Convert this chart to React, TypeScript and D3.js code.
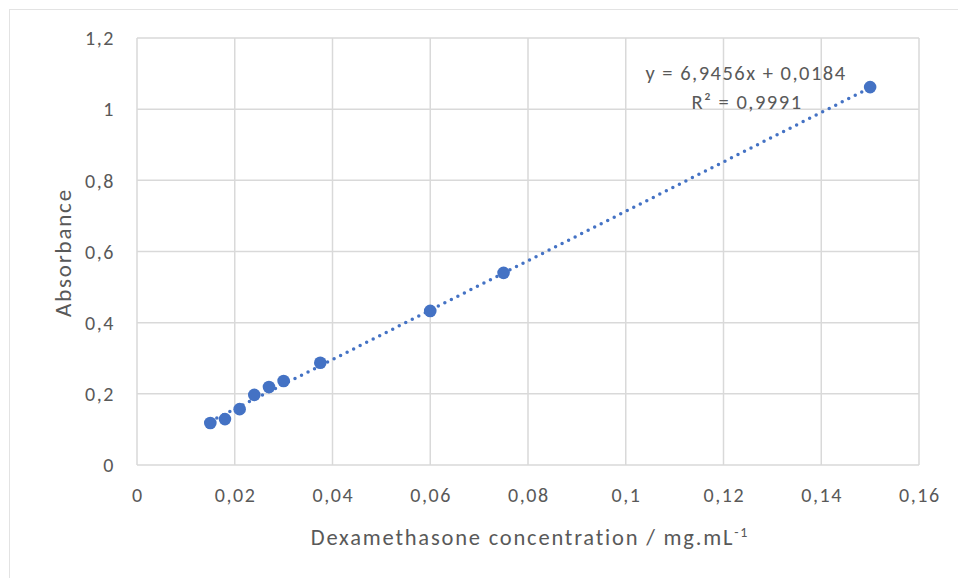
import React from 'react';
import * as d3 from 'd3';

const width = 958;
const height = 578;
const margin = { top: 38, right: 39, bottom: 113, left: 137 };

const concentration = [0.015, 0.018, 0.021, 0.024, 0.027, 0.03, 0.0375, 0.06, 0.075, 0.15];
const absorbance = [0.118, 0.129, 0.157, 0.197, 0.219, 0.236, 0.2875, 0.433, 0.54, 1.062];
const xTicks = [0, 0.02, 0.04, 0.06, 0.08, 0.1, 0.12, 0.14, 0.16];
const yTicks = [0, 0.2, 0.4, 0.6, 0.8, 1, 1.2];
const slope = 6.9456;
const intercept = 0.0184;
const equationLabel = 'y = 6,9456x + 0,0184';
const r2Label = 'R² = 0,9991';

const font = 'Carlito, Calibri, Lato, sans-serif';
const textColor = '#595959';
const gridColor = '#d9d9d9';
const blue = '#4472C4';

const fmt = (v: number) => String(v).replace('.', ',');

export default function App() {
  const x = d3.scaleLinear().domain([0, 0.16]).range([margin.left, width - margin.right]);
  const y = d3.scaleLinear().domain([0, 1.2]).range([height - margin.bottom, margin.top]);

  const xMin = d3.min(concentration) as number;
  const xMax = d3.max(concentration) as number;
  const trend = d3.line<number>()
    .x(d => x(d))
    .y(d => y(slope * d + intercept))([xMin, xMax]);

  const points = concentration.map((c, i) => ({ c, a: absorbance[i] }));

  return (
    <svg width={width} height={height} style={{ position: 'absolute', left: 0, top: 0 }}>
      <rect width={width} height={height} fill="#fff" />
      {/* chart border, cropped on right and bottom */}
      <line x1={9.5} x2={9.5} y1={9} y2={height} stroke="#e3e3e3" strokeWidth={1} />
      <line x1={9} x2={width} y1={9.5} y2={9.5} stroke="#e3e3e3" strokeWidth={1} />

      {xTicks.map(t => (
        <line key={'gx' + t} x1={x(t)} x2={x(t)} y1={y(0)} y2={y(1.2)} stroke={gridColor} strokeWidth={1.5} />
      ))}
      {yTicks.map(t => (
        <line key={'gy' + t} x1={x(0)} x2={x(0.16)} y1={y(t)} y2={y(t)} stroke={gridColor} strokeWidth={1.5} />
      ))}

      {xTicks.map(t => (
        <text key={'tx' + t} x={x(t) + 0.8} y={502} textAnchor="middle" fontFamily={font} fontSize={20} letterSpacing={1.6} fill={textColor}>
          {fmt(t)}
        </text>
      ))}
      {yTicks.map(t => (
        <text key={'ty' + t} x={x(0) - 22} y={y(t)} dy="0.36em" textAnchor="end" fontFamily={font} fontSize={20} letterSpacing={1.6} fill={textColor}>
          {fmt(t)}
        </text>
      ))}

      <path d={trend || ''} fill="none" stroke={blue} strokeWidth={3.5} strokeLinecap="round" strokeDasharray="0 7.3" />

      {points.map((p, i) => (
        <circle key={i} cx={x(p.c)} cy={y(p.a)} r={6.3} fill={blue} />
      ))}

      <text x={746} y={80} textAnchor="middle" fontFamily={font} fontSize={20.5} letterSpacing={1.5} fill={textColor}>{equationLabel}</text>
      <text x={747} y={109} textAnchor="middle" fontFamily={font} fontSize={20.5} letterSpacing={1.5} fill={textColor}>{r2Label}</text>

      <text transform={`translate(71, ${(y(0) + y(1.2)) / 2 + 1}) rotate(-90)`} textAnchor="middle" fontFamily={font} fontSize={23} letterSpacing={1.8} fill={textColor}>
        Absorbance
      </text>
      <text x={530} y={545} textAnchor="middle" fontFamily={font} fontSize={22.5} letterSpacing={1.8} fill={textColor}>
        Dexamethasone concentration / mg.mL<tspan dy={-8} fontSize={14}>-1</tspan>
      </text>
    </svg>
  );
}
